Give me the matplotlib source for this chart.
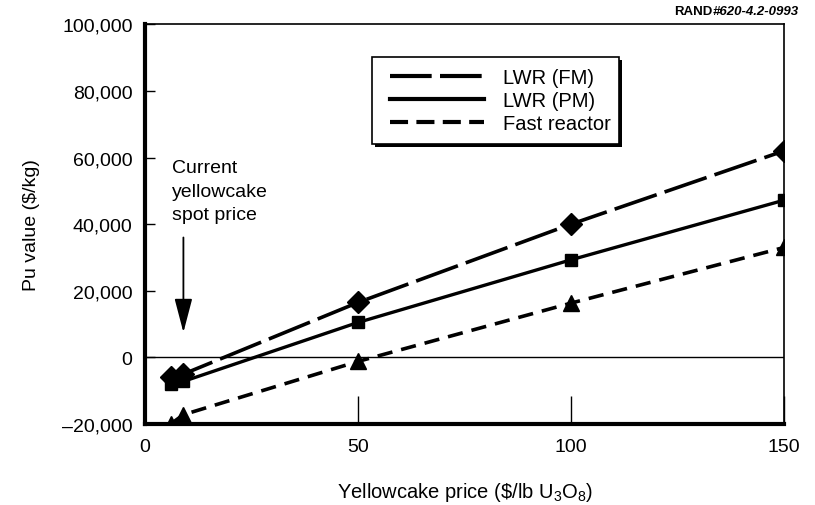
import matplotlib
matplotlib.use("Agg")
import matplotlib.pyplot as plt
from matplotlib.ticker import FuncFormatter
from matplotlib.lines import Line2D
from matplotlib.patches import Rectangle

plt.rcParams['font.family'] = ['Liberation Sans', 'DejaVu Sans']
plt.rcParams['lines.scale_dashes'] = False
plt.rcParams['mathtext.fontset'] = 'custom'
plt.rcParams['mathtext.rm'] = 'Liberation Sans'
plt.rcParams['mathtext.it'] = 'Liberation Sans'

# Data
price = [6, 9, 50, 100, 150]
lwr_fm = [-6000, -5000, 16500, 40000, 62000]
lwr_pm = [-8000, -7200, 10500, 29300, 47200]
fast = [-20000, -17200, -1200, 16300, 33000]
series_labels = ["LWR (FM)", "LWR (PM)", "Fast reactor"]
yticks = [-20000, 0, 20000, 40000, 60000, 80000, 100000]
xticks = [0, 50, 100, 150]
spot_price = 9

fig = plt.figure(figsize=(8.15, 5.06), dpi=100)
ax = fig.add_axes([0.178, 0.160, 0.784, 0.790])

ax.plot(price, lwr_fm, color='black', lw=2.6, dashes=(32, 6),
        marker='D', ms=11, label=series_labels[0])
ax.plot(price, lwr_pm, color='black', lw=2.4, ls='-',
        marker='s', ms=9, label=series_labels[1])
ax.plot(price, fast, color='black', lw=2.6, dashes=(11, 6.5),
        marker='^', ms=11, label=series_labels[2])

ax.axhline(0, color='black', lw=1.0, zorder=1)

ax.set_xlim(0, 150)
ax.set_ylim(-20000, 100000)
ax.set_xticks(xticks)
ax.set_yticks(yticks)
ax.yaxis.set_major_formatter(FuncFormatter(lambda v, p: f"{int(v):,}".replace('-', '\u2013')))
ax.tick_params(axis='y', direction='in', length=7, width=1, labelsize=14, pad=9)
ax.tick_params(axis='x', direction='in', length=20, width=1, labelsize=14, pad=10)

for s in ['left', 'bottom']:
    ax.spines[s].set_linewidth(3)
for s in ['right', 'top']:
    ax.spines[s].set_linewidth(1.2)

ax.set_xlabel("Yellowcake price (\\$/lb U$_3$O$_8$)", fontsize=14.5, labelpad=18)
ax.set_ylabel("Pu value ($/kg)", fontsize=14, labelpad=16)

# Annotation
ax.text(0.042, 0.662, "Current\nyellowcake\nspot price", transform=ax.transAxes,
        fontsize=14, va='top', ha='left', linespacing=1.5)
ax.annotate("", xy=(spot_price, 7500), xytext=(spot_price, 36000),
            arrowprops=dict(arrowstyle='-|>,head_length=2.1,head_width=0.55',
                            color='black', lw=1.3, shrinkA=0, shrinkB=0))

# Legend box with shadow (drawn as patches), entries without markers
box_x0, box_y0, box_w, box_h = 0.355, 0.70, 0.386, 0.2175
ax.add_patch(Rectangle((box_x0 + 0.005, box_y0 - 0.008), box_w, box_h,
                       transform=ax.transAxes, facecolor='black', edgecolor='none',
                       zorder=4, clip_on=False))
ax.add_patch(Rectangle((box_x0, box_y0), box_w, box_h, transform=ax.transAxes,
                       facecolor='white', edgecolor='black', lw=1.2, zorder=5,
                       clip_on=False))
h1 = Line2D([], [], color='black', lw=3, dashes=(30, 6))
h2 = Line2D([], [], color='black', lw=3)
h3 = Line2D([], [], color='black', lw=3, dashes=(13, 6))
leg = ax.legend([h1, h2, h3], series_labels, loc='upper left',
                bbox_to_anchor=(0.383, 0.89), fontsize=14.5, frameon=False,
                handlelength=4.7, handletextpad=0.9,
                borderpad=0, labelspacing=0.2, borderaxespad=0)
leg.set_zorder(6)

# Figure ID
fig.text(0.874, 0.976, "RAND", fontsize=9.5, fontweight='bold', ha='right', va='center')
fig.text(0.874, 0.976, "#620-4.2-0993", fontsize=9.5, fontweight='bold',
         style='italic', ha='left', va='center')

fig.savefig("out.png", dpi=100)
